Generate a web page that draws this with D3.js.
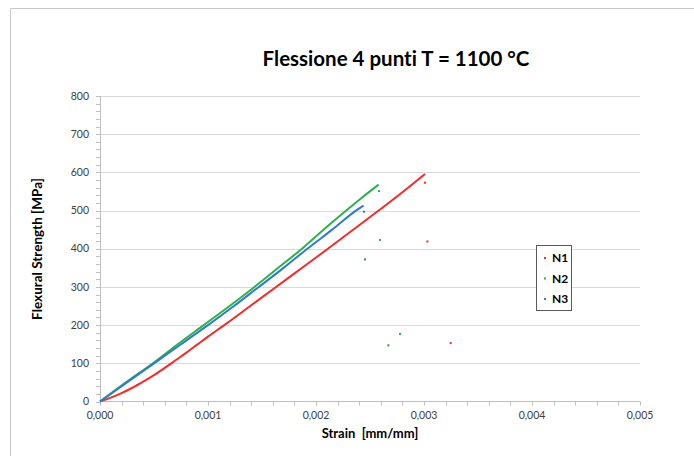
<!DOCTYPE html>
<html><head><meta charset="utf-8">
<script src="https://cdn.jsdelivr.net/npm/d3@7"></script>
<style>html,body{margin:0;padding:0;background:#fff;}svg{display:block;}text{font-variant-ligatures:none;font-feature-settings:"liga" 0;}</style>
</head><body>
<svg id="c" width="694" height="456"></svg>
<script>
// ---- data ----
const seriesNames = ["N1", "N2", "N3"];
const seriesColors = ["#f52a2a", "#2eb04c", "#2d7bd0"];
const n1Strain = [0, 0.0001, 0.0002, 0.0003, 0.0004, 0.0005, 0.0006, 0.0007, 0.0008, 0.0009, 0.001, 0.00115, 0.0014, 0.00163, 0.0019, 0.00211, 0.00235, 0.00258, 0.0028, 0.00301];
const n1Stress = [0, 10, 22, 36, 52, 69, 88, 108, 128, 149, 170, 200, 252, 300, 356, 400, 451, 500, 548, 596];
const n2Strain = [0, 0.00025, 0.00049, 0.00072, 0.00096, 0.0012, 0.00143, 0.00165, 0.00187, 0.00207, 0.00228, 0.00243, 0.00258];
const n2Stress = [0, 52, 100, 150, 200, 250, 300, 350, 400, 450, 500, 535, 568];
const n3Strain = [0, 0.00025, 0.0005, 0.00075, 0.001, 0.00124, 0.00147, 0.0017, 0.00192, 0.00215, 0.00237, 0.00244];
const n3Stress = [0, 50, 100, 150, 200, 250, 300, 350, 400, 450, 500, 513];
const n1AfterStrain = [0.003009, 0.003031, 0.003247];
const n1AfterStress = [573, 419, 153];
const n2AfterStrain = [0.002583, 0.002593, 0.002778];
const n2AfterStress = [551, 423, 177];
const n3AfterStrain = [0.002444, 0.002454, 0.00267];
const n3AfterStress = [497, 372, 147];
const xTicks = [0, 0.001, 0.002, 0.003, 0.004, 0.005];
const yTicks = [0, 100, 200, 300, 400, 500, 600, 700, 800];
const titleText = "Flessione 4 punti T = 1100 °C";
const xTitle = "Strain  [mm/mm]";
const yTitle = "Flexural Strength [MPa]";

const zip = (a, b) => a.map((v, i) => [v, b[i]]);
const lines = [zip(n1Strain, n1Stress), zip(n2Strain, n2Stress), zip(n3Strain, n3Stress)];
const afters = [zip(n1AfterStrain, n1AfterStress), zip(n2AfterStrain, n2AfterStress), zip(n3AfterStrain, n3AfterStress)];

const svg = d3.select("#c");
const FONT = "Lato, 'Open Sans', sans-serif";

// chart area border (top + left)
svg.append("path").attr("d", "M10.5,456 V8.5 H694").attr("fill", "none").attr("stroke", "#c8c8c8").attr("stroke-width", 1);

const x = d3.scaleLinear().domain([0, 0.005]).range([100, 640]);
const y = d3.scaleLinear().domain([0, 800]).range([401.5, 96]);

// gridlines
svg.append("g").selectAll("line").data(yTicks.slice(1)).join("line")
  .attr("x1", 100).attr("x2", 640)
  .attr("y1", d => Math.round(y(d)) + 0.5).attr("y2", d => Math.round(y(d)) + 0.5)
  .attr("stroke", "#d9d9d9").attr("stroke-width", 1);

// minor ticks
const yMinor = d3.range(0, 801, 20);
svg.append("g").selectAll("line").data(yMinor).join("line")
  .attr("x1", 96).attr("x2", 100)
  .attr("y1", d => Math.round(y(d)) + 0.5).attr("y2", d => Math.round(y(d)) + 0.5)
  .attr("stroke", "#bfbfbf");
const xMinor = d3.range(0, 26).map(i => i * 0.0002);
svg.append("g").selectAll("line").data(xMinor).join("line")
  .attr("y1", 401.5).attr("y2", 405.5)
  .attr("x1", d => Math.round(x(d)) + 0.5).attr("x2", d => Math.round(x(d)) + 0.5)
  .attr("stroke", "#bfbfbf");

// axes lines
svg.append("line").attr("x1", 100.5).attr("x2", 100.5).attr("y1", 96).attr("y2", 402).attr("stroke", "#bfbfbf");
svg.append("line").attr("x1", 100).attr("x2", 640).attr("y1", 401.5).attr("y2", 401.5).attr("stroke", "#bfbfbf");

// tick labels
svg.append("g").selectAll("text").data(yTicks).join("text")
  .attr("x", 89).attr("y", d => y(d)).attr("dy", "0.35em")
  .attr("text-anchor", "end").attr("font-family", FONT).attr("font-size", 10.5).attr("fill", "#404040")
  .text(d => d3.format("d")(d));
svg.append("g").selectAll("text").data(xTicks).join("text")
  .attr("x", d => x(d)).attr("y", 419)
  .attr("text-anchor", "middle").attr("font-family", FONT).attr("font-size", 10.5).attr("fill", "#404040")
  .text(d => d3.format(".3f")(d).replace(".", ","));

// series lines
const lineGen = d3.line().x(d => x(d[0])).y(d => y(d[1])).curve(d3.curveMonotoneX);
lines.forEach((pts, i) => {
  svg.append("path").datum(pts).attr("d", lineGen)
    .attr("fill", "none").attr("stroke", seriesColors[i]).attr("stroke-width", 2).attr("stroke-linejoin", "round");
});
// isolated points
afters.forEach((pts, i) => {
  svg.append("g").selectAll("rect").data(pts).join("rect")
    .attr("x", d => x(d[0]) - 1).attr("y", d => y(d[1]) - 1)
    .attr("width", 2).attr("height", 2).attr("fill", seriesColors[i]);
});

// titles
svg.append("text").attr("x", 396).attr("y", 66).attr("text-anchor", "middle")
  .attr("font-family", FONT).attr("font-weight", "bold").attr("font-size", 20.5).attr("fill", "#000")
  .text(titleText);
svg.append("text").attr("x", 370).attr("y", 438).attr("text-anchor", "middle")
  .attr("font-family", FONT).attr("font-weight", "bold").attr("font-size", 13).attr("fill", "#000")
  .style("white-space", "pre")
  .text(xTitle);
svg.append("text").attr("transform", "translate(42,249) rotate(-90)").attr("text-anchor", "middle")
  .attr("font-family", FONT).attr("font-weight", "bold").attr("font-size", 13.5).attr("fill", "#000")
  .text(yTitle);

// legend
const lg = svg.append("g");
lg.append("rect").attr("x", 536.5).attr("y", 245.5).attr("width", 35).attr("height", 65)
  .attr("fill", "#fff").attr("stroke", "#595959").attr("stroke-width", 1);
seriesNames.forEach((n, i) => {
  const cy = 258 + i * 20.5;
  lg.append("rect").attr("x", 544).attr("y", cy - 1).attr("width", 2).attr("height", 2).attr("fill", seriesColors[i]);
  lg.append("text").attr("x", 552).attr("y", cy).attr("dy", "0.36em")
    .attr("font-family", FONT).attr("font-weight", "bold").attr("font-size", 12).attr("fill", "#000").text(n);
});
</script>
</body></html>
